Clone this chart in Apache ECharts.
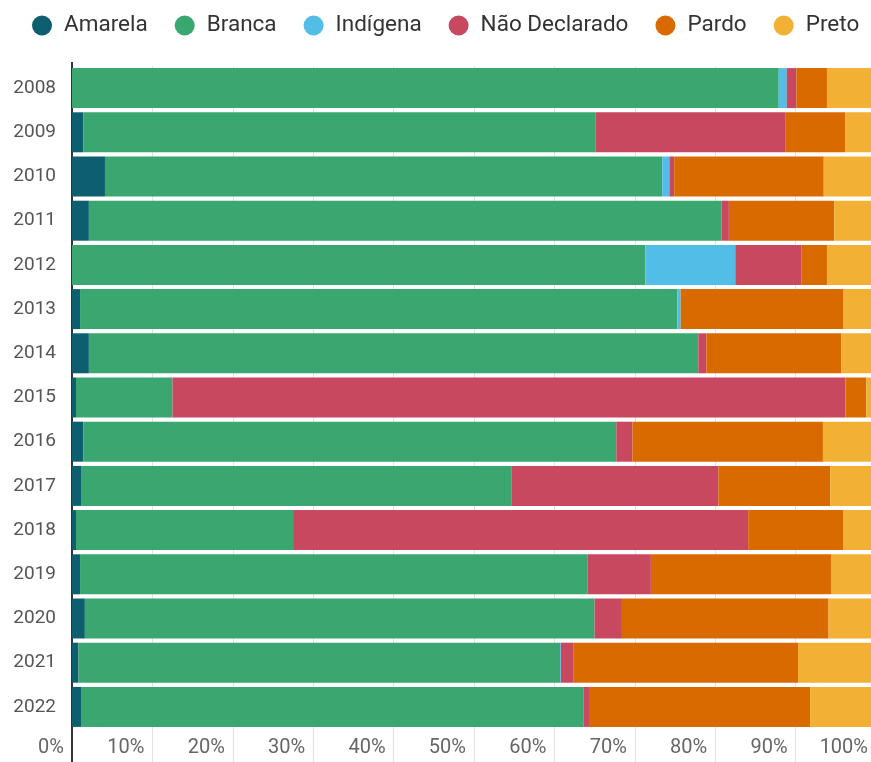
<!DOCTYPE html>
<html>
<head>
<meta charset="utf-8">
<script src="https://cdn.jsdelivr.net/npm/echarts@6/dist/echarts.min.js"></script>
<style>
html,body{margin:0;padding:0;background:#fff;}
#c{width:871px;height:762px;}
</style>
</head>
<body>
<div id="c"></div>
<script>
const years = ['2008','2009','2010','2011','2012','2013','2014','2015','2016','2017','2018','2019','2020','2021','2022'];
const seriesNames = ['Amarela','Branca','Indígena','Não Declarado','Pardo','Preto'];
const amarela      = [0,   1.4, 4.1, 2.1, 0,    1.0, 2.1, 0.5, 1.4, 1.2, 0.5, 1.0, 1.6, 0.8, 1.2];
const branca       = [87.9,63.7,69.3,78.7,71.3,74.3,75.8,12.0,66.3,53.5,27.0,63.1,63.4,59.9,62.4];
const indigena     = [1.0, 0,   0.9, 0,   11.2, 0.4, 0,   0,   0,   0,   0,   0,   0,   0.1, 0];
const naoDeclarado = [1.2, 23.6,0.6, 0.9, 8.2,  0,   1.0, 83.7,2.0, 25.7,56.6,7.9, 3.4, 1.6, 0.7];
const pardo        = [3.8, 7.5, 18.6,13.1,3.2,  20.2,16.8,2.6, 23.7,13.9,11.8,22.4,25.7,27.9,27.5];
const preto        = [6.1, 3.8, 6.5, 5.2, 6.1,  4.1, 4.3, 1.2, 6.6, 5.7, 4.1, 5.6, 5.9, 9.7, 8.2];
const xTicks = [0,10,20,30,40,50,60,70,80,90,100];

const colors = ['#0d5e6e','#3aa670','#52bde6','#c8485f','#d86a00','#f2b035'];
const values = [amarela, branca, indigena, naoDeclarado, pardo, preto];

const chart = echarts.init(document.getElementById('c'), null, {renderer:'canvas'});
const font = 'Roboto, "Noto Sans", sans-serif';
chart.setOption({
  animation: false,
  backgroundColor: '#ffffff',
  color: colors,
  legend: {
    data: seriesNames,
    top: 9,
    left: 27,
    width: 860,
    icon: 'circle',
    itemWidth: 20,
    itemHeight: 20,
    itemGap: 27,
    textStyle: {fontFamily: font, fontSize: 22.5, color: '#333', padding: [0,0,0,7]}
  },
  grid: {left: 72, top: 66, bottom: 33, right: -5, outerBoundsMode: 'none', containLabel: false},
  xAxis: [{
    type: 'value', min: 0, max: 100, interval: 10, position: 'bottom',
    axisLine: {show: false},
    axisTick: {show: true, length: 33, lineStyle: {color: '#e2e2e2', width: 1}},
    splitLine: {show: true, lineStyle: {color: '#e2e2e2', width: 1}},
    axisLabel: {
      fontFamily: font, fontSize: 20, color: '#666', align: 'right',
      margin: 9, padding: [0,8,0,0], showMaxLabel: true, showMinLabel: true,
      formatter: v => xTicks.indexOf(v) >= 0 ? v + '%' : ''
    }
  },{
    type: 'value', min: 0, max: 100, interval: 100, position: 'bottom',
    axisLine: {show: false},
    axisTick: {show: true, length: 33, lineStyle: {color: '#333', width: 2}},
    splitLine: {show: false}, axisLabel: {show: false}
  },{
    type: 'value', min: 0, max: 100, interval: 100, position: 'top',
    axisLine: {show: false},
    axisTick: {show: true, length: 4, lineStyle: {color: '#333', width: 2}},
    splitLine: {show: false}, axisLabel: {show: false}
  }],
  yAxis: {
    type: 'category', data: years, inverse: true,
    axisLine: {show: true, lineStyle: {color: '#333', width: 2}},
    axisTick: {show: false},
    axisLabel: {fontFamily: font, fontSize: 19, color: '#555', margin: 16}
  },
  series: seriesNames.map((n, i) => ({
    name: n, type: 'bar', stack: 'total', xAxisIndex: 0,
    barCategoryGap: '9.5%',
    data: values[i],
    itemStyle: {color: colors[i]},
    emphasis: {disabled: true}
  }))
});
</script>
</body>
</html>
